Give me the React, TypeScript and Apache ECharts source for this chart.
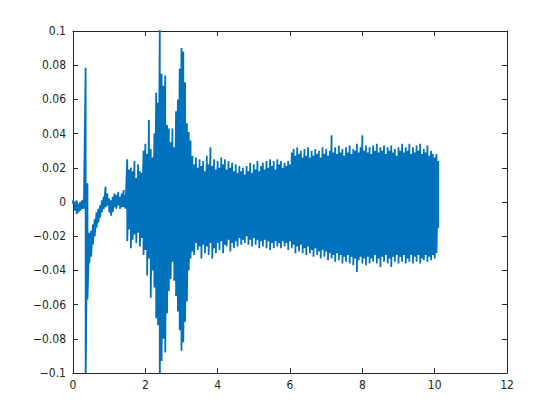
import React, { useEffect, useRef } from "react";
import * as echarts from "echarts";

// Sample interval (s) of the envelope readings below
const sampleStep = 0.05;

// Upper envelope of the waveform, one value per sample (t = 0 .. 10.10 s)
const upper = [
  0.001, 0.000, 0.001, -0.001, 0.000, 0.001, 0.002, 0.0785, 0.011, -0.018,
  -0.017, -0.013, -0.010, -0.006, -0.004, -0.002, 0.001, 0.003, 0.009, 0.005,
  0.002, 0.001, 0.003, 0.005, 0.004, 0.006, 0.003, 0.005, 0.007, 0.004,
  0.025, 0.019, 0.020, 0.018, 0.024, 0.014, 0.022, 0.018, 0.017, 0.030,
  0.034, 0.028, 0.048, 0.031, 0.026, 0.040, 0.064, 0.058, 0.105, 0.075,
  0.068, 0.074, 0.045, 0.043, 0.035, 0.043, 0.032, 0.053, 0.060, 0.078,
  0.090, 0.088, 0.070, 0.046, 0.041, 0.036, 0.027, 0.022, 0.026, 0.020,
  0.025, 0.021, 0.024, 0.018, 0.027, 0.022, 0.032, 0.021, 0.025, 0.019,
  0.024, 0.020, 0.026, 0.022, 0.025, 0.019, 0.024, 0.020, 0.023, 0.018,
  0.022, 0.017, 0.021, 0.018, 0.020, 0.016, 0.021, 0.018, 0.023, 0.017,
  0.022, 0.019, 0.024, 0.018, 0.021, 0.023, 0.019, 0.024, 0.020, 0.025,
  0.021, 0.024, 0.019, 0.025, 0.022, 0.024, 0.020, 0.023, 0.021, 0.024,
  0.022, 0.029, 0.031, 0.027, 0.032, 0.028, 0.030, 0.026, 0.031, 0.027,
  0.032, 0.026, 0.030, 0.027, 0.031, 0.028, 0.030, 0.026, 0.032, 0.028,
  0.031, 0.027, 0.030, 0.039, 0.029, 0.032, 0.028, 0.033, 0.029, 0.031,
  0.027, 0.032, 0.029, 0.033, 0.028, 0.031, 0.030, 0.034, 0.029, 0.032,
  0.039, 0.030, 0.033, 0.029, 0.032, 0.028, 0.033, 0.030, 0.034, 0.029,
  0.032, 0.030, 0.033, 0.028, 0.032, 0.030, 0.033, 0.029, 0.031, 0.027,
  0.032, 0.030, 0.034, 0.029, 0.032, 0.030, 0.034, 0.028, 0.032, 0.029,
  0.033, 0.030, 0.034, 0.028, 0.031, 0.029, 0.033, 0.027, 0.030, 0.028,
  0.026, 0.028, 0.024,
];

// Lower envelope of the waveform, one value per sample
const lower = [
  -0.001, -0.005, -0.007, -0.006, -0.005, -0.004, -0.004, -0.105, -0.057, -0.036,
  -0.032, -0.025, -0.020, -0.015, -0.012, -0.009, -0.006, -0.004, -0.003, -0.002,
  -0.006, -0.008, -0.006, -0.003, -0.004, -0.002, -0.004, -0.003, -0.003, -0.004,
  -0.023, -0.016, -0.027, -0.022, -0.019, -0.024, -0.018, -0.026, -0.021, -0.031,
  -0.028, -0.043, -0.033, -0.056, -0.040, -0.050, -0.068, -0.072, -0.105, -0.093,
  -0.080, -0.088, -0.065, -0.052, -0.045, -0.035, -0.046, -0.055, -0.064, -0.075,
  -0.087, -0.082, -0.070, -0.058, -0.040, -0.033, -0.029, -0.031, -0.024, -0.028,
  -0.026, -0.033, -0.025, -0.030, -0.026, -0.031, -0.024, -0.033, -0.027, -0.030,
  -0.024, -0.028, -0.023, -0.030, -0.025, -0.026, -0.022, -0.029, -0.024, -0.027,
  -0.023, -0.026, -0.021, -0.025, -0.022, -0.024, -0.020, -0.025, -0.022, -0.026,
  -0.021, -0.025, -0.022, -0.027, -0.023, -0.026, -0.022, -0.027, -0.023, -0.028,
  -0.024, -0.027, -0.023, -0.026, -0.024, -0.027, -0.023, -0.026, -0.024, -0.028,
  -0.023, -0.027, -0.025, -0.030, -0.026, -0.029, -0.025, -0.030, -0.027, -0.031,
  -0.026, -0.030, -0.028, -0.032, -0.027, -0.031, -0.029, -0.033, -0.028, -0.032,
  -0.029, -0.034, -0.030, -0.033, -0.031, -0.035, -0.030, -0.034, -0.031, -0.036,
  -0.032, -0.035, -0.031, -0.036, -0.032, -0.037, -0.033, -0.041, -0.034, -0.032,
  -0.036, -0.033, -0.037, -0.032, -0.036, -0.033, -0.035, -0.031, -0.036, -0.033,
  -0.038, -0.032, -0.035, -0.031, -0.036, -0.033, -0.038, -0.032, -0.035, -0.031,
  -0.036, -0.032, -0.035, -0.031, -0.036, -0.033, -0.035, -0.031, -0.036, -0.032,
  -0.035, -0.031, -0.036, -0.033, -0.034, -0.031, -0.035, -0.032, -0.034, -0.031,
  -0.033, -0.030, -0.015,
];

const xTicks = [0, 2, 4, 6, 8, 10, 12];
const yTicks = [-0.1, -0.08, -0.06, -0.04, -0.02, 0, 0.02, 0.04, 0.06, 0.08, 0.1];

const AXIS_COLOR = "#262626";
const LINE_COLOR = "#0072BD";
const FONT = "'Liberation Sans Narrow', 'DejaVu Sans Condensed', sans-serif";

export default function App() {
  const ref = useRef<HTMLDivElement>(null);

  useEffect(() => {
    if (!ref.current) return;
    const chart = echarts.init(ref.current, undefined, { renderer: "svg" });

    const points: [number, number][] = [];
    for (let i = 0; i < upper.length; i++) {
      const t = +(i * sampleStep).toFixed(3);
      points.push([t, upper[i]]);
      points.push([t, lower[i]]);
    }

    const fmtY = (v: number) => {
      const match = yTicks.find((y) => Math.abs(y - v) < 1e-9);
      const val = match !== undefined ? match : v;
      return String(+val.toFixed(2)).replace("-", "\u2212");
    };

    const baseX = {
      type: "value" as const,
      min: xTicks[0],
      max: xTicks[xTicks.length - 1],
      interval: 2,
      splitLine: { show: false },
      axisLine: { show: true, onZero: false, lineStyle: { color: AXIS_COLOR, width: 1 } },
      axisTick: { show: true, inside: true, length: 5, lineStyle: { color: AXIS_COLOR } },
    };
    const baseY = {
      type: "value" as const,
      min: yTicks[0],
      max: yTicks[yTicks.length - 1],
      interval: 0.02,
      splitLine: { show: false },
      axisLine: { show: true, onZero: false, lineStyle: { color: AXIS_COLOR, width: 1 } },
      axisTick: { show: true, inside: true, length: 5, lineStyle: { color: AXIS_COLOR } },
    };

    chart.setOption({
      animation: false,
      backgroundColor: "#ffffff",
      grid: { left: 73, right: 51, top: 31, bottom: 45, containLabel: false },
      xAxis: [
        {
          ...baseX,
          position: "bottom",
          axisLabel: {
            show: true,
            color: AXIS_COLOR,
            fontFamily: FONT,
            fontSize: 12,
            margin: 6,
            formatter: (v: number) => String(v),
          },
        },
        {
          ...baseX,
          position: "top",
          axisLabel: { show: false },
        },
      ],
      yAxis: [
        {
          ...baseY,
          position: "left",
          axisLabel: {
            show: true,
            color: AXIS_COLOR,
            fontFamily: FONT,
            fontSize: 12,
            margin: 7,
            formatter: fmtY,
          },
        },
        {
          ...baseY,
          position: "right",
          axisLabel: { show: false },
        },
      ],
      series: [
        {
          type: "line",
          xAxisIndex: 0,
          yAxisIndex: 0,
          data: points,
          showSymbol: false,
          symbol: "none",
          clip: true,
          lineStyle: { color: LINE_COLOR, width: 1.8, join: "miter", miterLimit: 1 },
        },
      ],
    });

    return () => chart.dispose();
  }, []);

  return <div ref={ref} style={{ width: 558, height: 418, position: "absolute", left: 0, top: 0 }} />;
}
